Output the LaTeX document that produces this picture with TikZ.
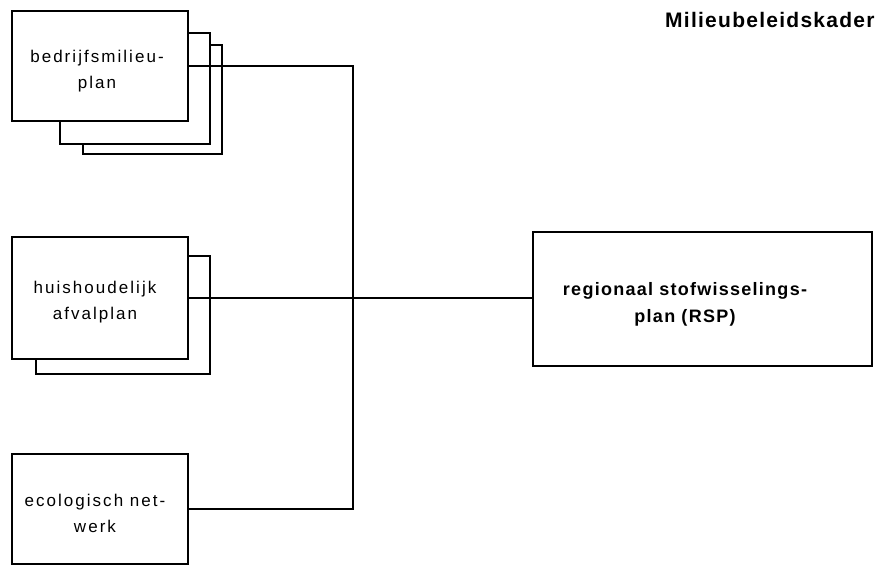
\documentclass[tikz,border=0pt]{standalone}
\usepackage{fontspec}
\newfontfamily\boxfont[LetterSpace=12]{Liberation Sans}
\newfontfamily\rspfont[LetterSpace=7]{Liberation Sans}
\newfontfamily\titlefont[LetterSpace=6]{Liberation Sans}
\begin{document}
\begin{tikzpicture}[x=1pt,y=-1pt,
  box/.style={draw=black,line width=1.3pt,fill=white,inner sep=0pt,outer sep=0pt,rectangle},
  lbl/.style={inner sep=0pt,align=center,anchor=base,font=\boxfont\fontsize{17}{26}\selectfont},
  rsplbl/.style={inner sep=0pt,align=center,anchor=base,font=\rspfont\bfseries\fontsize{18}{27}\selectfont},
  conn/.style={draw=black,line width=1.3pt}]
\useasboundingbox[fill=white] (0,0) rectangle (879,565);
% stacked sheets behind bedrijfsmilieuplan
\node[box,minimum width=139pt,minimum height=109pt] (b1c) at (152.5,99.5) {};
\node[box,minimum width=150pt,minimum height=111pt] (b1b) at (135,88.5) {};
\node[box,minimum width=176pt,minimum height=110pt] (b1) at (100,66) {};
% stacked sheet behind huishoudelijk afvalplan
\node[box,minimum width=174pt,minimum height=118pt] (b2b) at (123,315) {};
\node[box,minimum width=176pt,minimum height=122pt] (b2) at (100,298) {};
% ecologisch netwerk
\node[box,minimum width=176pt,minimum height=110pt] (b3) at (100,509) {};
% RSP
\node[box,minimum width=339pt,minimum height=134pt] (rsp) at (702.5,299) {};
% labels
\node[lbl] (t1) at (97,88) {bedrijfsmilieu-\\plan};
\node[lbl] (t2) at (95,319) {huishoudelijk\\afvalplan};
\node[lbl] (t3) at (95,532) {ecologisch net-\\werk};
\node[rsplbl] (t4) at (685,322) {regionaal stofwisselings-\\plan (RSP)};
\node[inner sep=0pt,anchor=base west,font=\titlefont\bfseries\fontsize{21}{25}\selectfont] (title) at (665,27) {Milieubeleidskader};
% connectors
\coordinate (j) at (353,298);
\draw[conn] (b1.east) -| (b3.east -| j) -- (b3.east);
\draw[conn] (b2.east) -- (b2.east -| rsp.west);
\end{tikzpicture}
\end{document}
